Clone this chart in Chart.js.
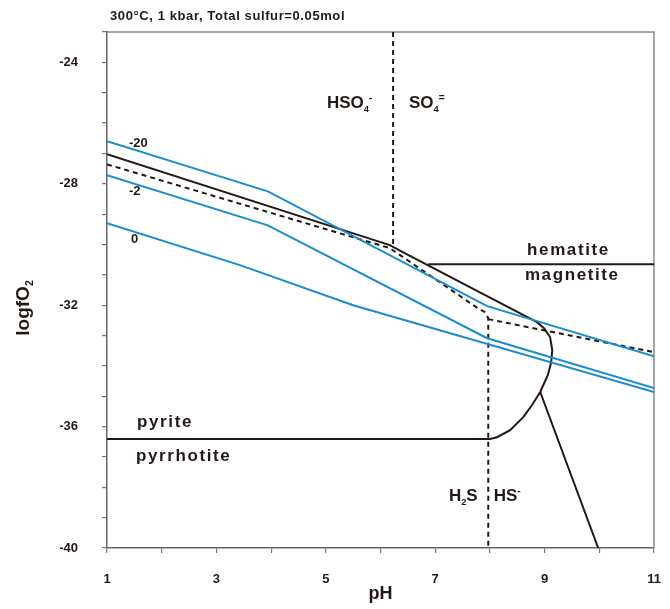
<!DOCTYPE html>
<html>
<head>
<meta charset="utf-8">
<script src="https://cdn.jsdelivr.net/npm/chart.js@4.4.1/dist/chart.umd.min.js"></script>
<style>
  html, body { margin: 0; padding: 0; background: #fff; }
  canvas { display: block; }
</style>
</head>
<body>
<canvas id="fo2Chart" width="670" height="609"></canvas>
<script>
// axis ticks that carry a label
const pHLabels = [1, 3, 5, 7, 9, 11];
const fO2Labels = [-24, -28, -32, -36, -40];

// blue contours (labelled -20, -2, 0)
const pH_m20 = [1, 3.94, 7.95, 11];
const fO2_m20 = [-26.6, -28.25, -32.03, -33.68];
const pH_m2 = [1, 3.94, 7.95, 11];
const fO2_m2 = [-27.72, -29.37, -33.09, -34.73];
const pH_0 = [1, 3.43, 5.5, 11];
const fO2_0 = [-29.3, -30.68, -32.0, -34.86];

// solid boundary: sulfate field down around to pyrite / pyrrhotite
const pH_bound = [1, 6.17, 6.45, 8.86, 8.99, 9.1, 9.14, 9.12, 9.06, 8.92, 8.77, 8.61, 8.37, 8.13, 8.0, 1];
const fO2_bound = [-27.03, -30.02, -30.29, -32.56, -32.76, -33.05, -33.48, -33.88, -34.3, -34.86, -35.29, -35.69, -36.12, -36.35, -36.41, -36.41];
// branch running off the bottom
const pH_branch = [8.92, 9.98];
const fO2_branch = [-34.86, -40];
// hematite / magnetite
const pH_hem = [6.87, 11];
const fO2_hem = [-30.65, -30.65];

// dashed sulfur species boundaries
const pH_sulf = [1, 6.17, 7.78, 7.91, 7.97, 7.97];
const fO2_sulf = [-27.36, -30.12, -32.1, -32.23, -32.43, -40];
const pH_sulfR = [7.97, 11];
const fO2_sulfR = [-32.46, -33.55];
const pH_hso4 = [6.23, 6.23];
const fO2_hso4 = [-23, -30.05];

const FONT = "'Liberation Sans', Arial, sans-serif";
const INK = '#231815';
const BLUE = '#1a8ccf';

function pts(xs, ys) {
  return xs.map((x, i) => ({ x: x, y: ys[i] }));
}

function line(xs, ys, color, dash) {
  return {
    data: pts(xs, ys),
    showLine: true,
    borderColor: color,
    borderWidth: 2,
    borderDash: dash || [],
    pointRadius: 0,
    tension: 0,
    fill: false
  };
}

const datasets = [
  line(pH_0, fO2_0, BLUE),
  line(pH_m2, fO2_m2, BLUE),
  line(pH_m20, fO2_m20, BLUE),
  line(pH_sulf, fO2_sulf, INK, [5, 4]),
  line(pH_sulfR, fO2_sulfR, INK, [5, 4]),
  line(pH_hso4, fO2_hso4, INK, [5, 4]),
  line(pH_bound, fO2_bound, INK),
  line(pH_branch, fO2_branch, INK),
  line(pH_hem, fO2_hem, INK)
];

// text placed at pH / logfO2 positions: [text, 'sub' | 'sup']
const notes = [
  { parts: [['HSO'], ['4', 'sub'], ['-', 'sup']], x: 5.02, y: -25.51, size: 17 },
  { parts: [['SO'], ['4', 'sub'], ['=', 'sup']], x: 6.52, y: -25.51, size: 17 },
  { parts: [['-20']], x: 1.4, y: -26.8, size: 13 },
  { parts: [['-2']], x: 1.4, y: -28.38, size: 13 },
  { parts: [['0']], x: 1.44, y: -29.96, size: 13 },
  { parts: [['hematite']], x: 8.68, y: -30.35, size: 17, spacing: 1.6 },
  { parts: [['magnetite']], x: 8.64, y: -31.18, size: 17, spacing: 1.6 },
  { parts: [['pyrite']], x: 1.55, y: -36.02, size: 17, spacing: 1.6 },
  { parts: [['pyrrhotite']], x: 1.53, y: -37.14, size: 17, spacing: 1.6 },
  { parts: [['H'], ['2', 'sub'], ['S']], x: 7.25, y: -38.45, size: 17 },
  { parts: [['HS'], ['-', 'sup']], x: 8.07, y: -38.45, size: 17 }
];

function drawParts(ctx, parts, x, y, size, spacing) {
  let cx = x;
  ctx.letterSpacing = (spacing || 0) + 'px';
  parts.forEach(p => {
    let fs = size, dy = 0;
    if (p[1] === 'sub') { fs = size * 0.55; dy = size * 0.22; }
    if (p[1] === 'sup') { fs = size * 0.6; dy = -size * 0.42; }
    ctx.font = 'bold ' + fs + 'px ' + FONT;
    ctx.fillText(p[0], cx, y + dy);
    cx += ctx.measureText(p[0]).width;
  });
  ctx.letterSpacing = '0px';
  return cx - x;
}

function measureParts(ctx, parts, size) {
  let w = 0;
  parts.forEach(p => {
    const fs = p[1] ? size * 0.55 : size;
    ctx.font = 'bold ' + fs + 'px ' + FONT;
    w += ctx.measureText(p[0]).width;
  });
  return w;
}

const framePlugin = {
  id: 'frame',
  beforeDatasetsDraw(chart) {
    const { ctx, chartArea: a } = chart;
    ctx.save();
    ctx.strokeStyle = '#8a8a8a';
    ctx.lineWidth = 1.5;
    ctx.beginPath();
    ctx.moveTo(a.left, a.top);
    ctx.lineTo(a.right, a.top);
    ctx.lineTo(a.right, a.bottom);
    ctx.stroke();
    ctx.restore();
  }
};

const textPlugin = {
  id: 'labels',
  afterDatasetsDraw(chart) {
    const { ctx, scales } = chart;
    ctx.save();
    ctx.fillStyle = INK;
    ctx.textBaseline = 'alphabetic';
    ctx.textAlign = 'left';
    notes.forEach(n => {
      drawParts(ctx, n.parts, scales.x.getPixelForValue(n.x), scales.y.getPixelForValue(n.y), n.size, n.spacing);
    });

    // run conditions above the frame
    ctx.font = 'bold 13px ' + FONT;
    ctx.letterSpacing = '0.6px';
    ctx.fillText('300°C, 1 kbar, Total sulfur=0.05mol', 110, 20);
    ctx.letterSpacing = '0px';

    // y axis title with subscript
    const yTitle = [['logfO'], ['2', 'sub']];
    const w = measureParts(ctx, yTitle, 19);
    ctx.translate(29, 308);
    ctx.rotate(-Math.PI / 2);
    drawParts(ctx, yTitle, -w / 2, 0, 19);
    ctx.restore();
  }
};

const ctx = document.getElementById('fo2Chart').getContext('2d');
const chart = new Chart(ctx, {
  type: 'scatter',
  data: { datasets: datasets },
  options: {
    responsive: false,
    animation: false,
    layout: { padding: { top: 32, right: 16, left: 0, bottom: 0 } },
    plugins: {
      legend: { display: false },
      tooltip: { enabled: false }
    },
    scales: {
      x: {
        type: 'linear',
        min: 1,
        max: 11,
        afterFit: s => {
          s.height = 61;
          s.paddingLeft = 0;
          s.paddingRight = 16;
        },
        ticks: {
          stepSize: 1,
          autoSkip: false,
          maxRotation: 0,
          padding: 19,
          color: INK,
          font: { family: FONT, size: 13, weight: 'bold' },
          callback: v => pHLabels.includes(v) ? String(v) : ''
        },
        grid: { drawOnChartArea: false, drawTicks: true, tickLength: 5, color: '#777', lineWidth: 1.2 },
        border: { color: '#666', width: 1.5 },
        title: {
          display: true,
          text: 'pH',
          color: INK,
          font: { family: FONT, size: 18, weight: 'bold' },
          padding: { top: 0, bottom: 4 }
        }
      },
      y: {
        type: 'linear',
        min: -40,
        max: -23,
        afterFit: s => { s.width = 107; },
        ticks: {
          stepSize: 1,
          autoSkip: false,
          padding: 24,
          color: INK,
          font: { family: FONT, size: 13, weight: 'bold' },
          callback: v => fO2Labels.includes(v) ? String(v) : ''
        },
        grid: { drawOnChartArea: false, drawTicks: true, tickLength: 5, color: '#777', lineWidth: 1.2 },
        border: { color: '#666', width: 1.5 }
      }
    }
  },
  plugins: [framePlugin, textPlugin]
});
</script>
</body>
</html>
